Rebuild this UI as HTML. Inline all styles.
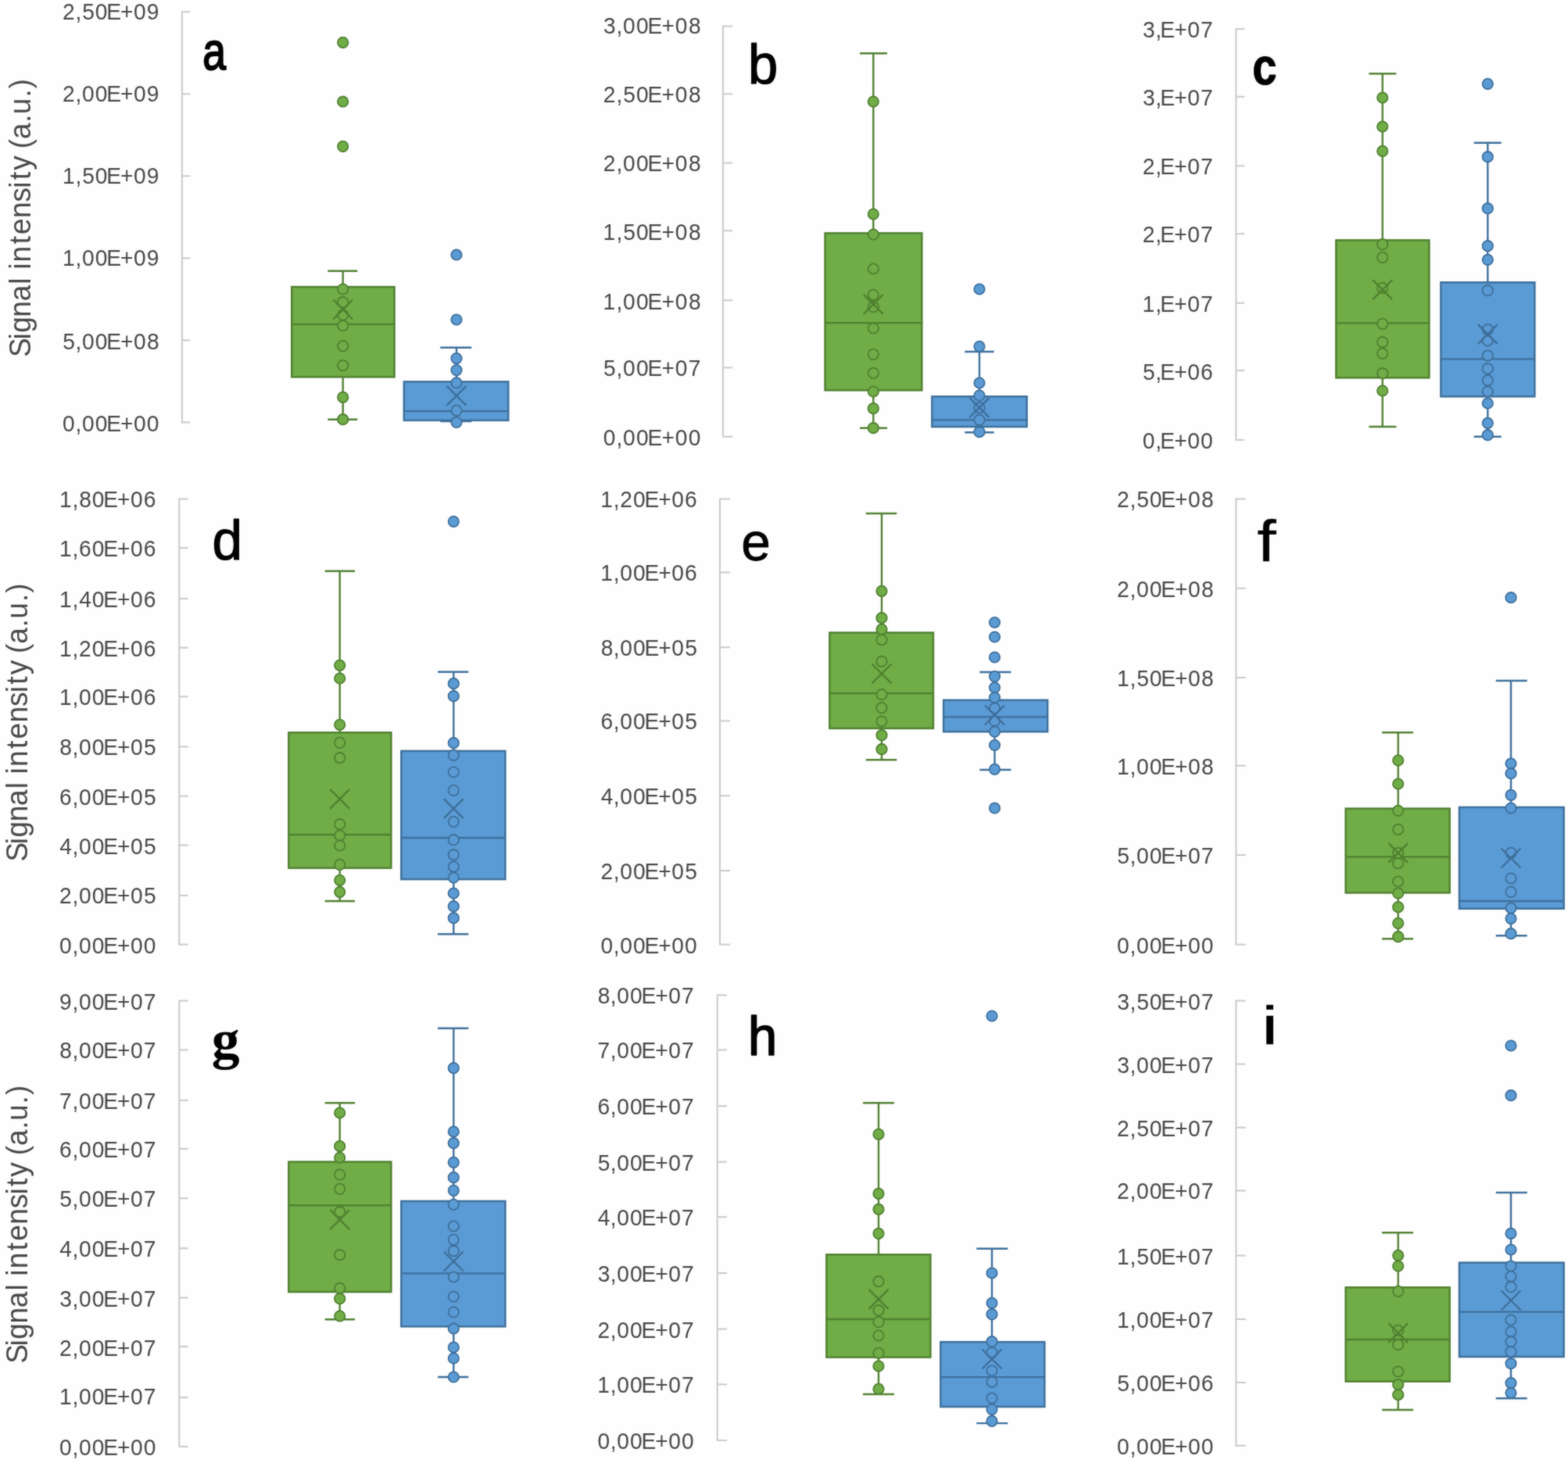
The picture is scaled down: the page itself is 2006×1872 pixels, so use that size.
<!DOCTYPE html>
<html lang="en"><head><meta charset="utf-8"><title>Signal intensity box plots</title>
<style>
html,body{margin:0;padding:0;background:#fff;}
body{width:2006px;height:1872px;overflow:hidden;}
svg{display:block;}
text{font-family:"Liberation Sans",sans-serif;}
.tl{font-size:30.3px;fill:#474747;}
.yl{font-size:39.3px;fill:#474747;}
.lt{fill:#000;}
.ax{stroke:#C9C9C9;stroke-width:2;fill:none;}
.gb{fill:#70AD47;stroke:#4F7F2F;stroke-width:2.5;}
.bb{fill:#5B9BD5;stroke:#3D6E9A;stroke-width:2.5;}
.gl{stroke:#4F7F2F;stroke-width:2.4;fill:none;}
.bl{stroke:#3D6E9A;stroke-width:2.4;fill:none;}
.gd{fill:#70AD47;stroke:#4F7F2F;stroke-width:1.8;}
.bd{fill:#5B9BD5;stroke:#3D6E9A;stroke-width:1.8;}
.gx{stroke:#4F7F2F;stroke-width:2.4;fill:none;}
.bx{stroke:#3D6E9A;stroke-width:2.4;fill:none;}
</style></head>
<body>

<svg width="2006" height="1872" viewBox="0 0 2006 1872">
<defs><filter id="soft" x="0" y="0" width="2006" height="1872" filterUnits="userSpaceOnUse" color-interpolation-filters="sRGB"><feGaussianBlur in="SourceGraphic" stdDeviation="0.9" result="b"/><feComposite in="SourceGraphic" in2="b" operator="arithmetic" k1="0" k2="0.5" k3="0.5" k4="0"/></filter></defs>
<g filter="url(#soft)">
<rect width="2006" height="1872" fill="#FEFEFE"/>
<g id="panel-a">
<line class="ax" x1="232.9" y1="14.1" x2="232.9" y2="541.4"/>
<line class="ax" x1="232.9" y1="15.1" x2="243.3" y2="15.1"/>
<line class="ax" x1="232.9" y1="120.25" x2="243.3" y2="120.25"/>
<line class="ax" x1="232.9" y1="225.2" x2="243.3" y2="225.2"/>
<line class="ax" x1="232.9" y1="330.4" x2="243.3" y2="330.4"/>
<line class="ax" x1="232.9" y1="435.4" x2="243.3" y2="435.4"/>
<line class="ax" x1="232.9" y1="540.4" x2="243.3" y2="540.4"/>
<text class="tl" transform="translate(79.7 24.9) scale(0.93 1)" x="0.46 18.14 27.53 45.26 60.76 79.89 98.17 116.14">2,50E+09</text>
<text class="tl" transform="translate(79.7 129.95) scale(0.93 1)" x="0.46 18.14 27.29 45.26 60.76 79.89 98.17 116.14">2,00E+09</text>
<text class="tl" transform="translate(79.7 235) scale(0.93 1)" x="0.23 18.14 27.53 45.26 60.76 79.89 98.17 116.14">1,50E+09</text>
<text class="tl" transform="translate(79.7 340.3) scale(0.93 1)" x="0.23 18.14 27.29 45.26 60.76 79.89 98.17 116.14">1,00E+09</text>
<text class="tl" transform="translate(79.7 447.4) scale(0.93 1)" x="0.7 18.14 27.29 45.26 60.76 79.89 98.17 116.38">5,00E+08</text>
<text class="tl" transform="translate(79.7 552.3) scale(0.93 1)" x="0.46 18.14 27.29 45.26 60.76 79.89 98.17 116.14">0,00E+00</text>
<text class="yl" transform="translate(38.6 454.4) rotate(-90) scale(0.94 1)" x="-2.74 21.08 30.43 51.86 73.46 96.49 105.86 116.63 126.56 151.12 164.33 186.66 208.46 227.4 238.65 251.79 271.64 280.98 293.98 316.61 327.96 350.99 362.97">Signal intensity (a.u.)</text>
<text class="lt" font-size="67.82" stroke="#000" stroke-width="1.8" stroke-linejoin="round" style="vector-effect:non-scaling-stroke;paint-order:stroke" transform="translate(259.35 89.42) scale(0.7911 1)">a</text>
<line class="gl" x1="438.7" y1="346.7" x2="438.7" y2="365.9"/>
<line class="gl" x1="438.7" y1="483.6" x2="438.7" y2="536.7"/>
<line class="gl" x1="419.3" y1="346.7" x2="457.3" y2="346.7"/>
<line class="gl" x1="419.3" y1="536.7" x2="457.3" y2="536.7"/>
<rect class="gb" x="373.25" y="367.15" width="131.3" height="115.2"/>
<line class="gl" style="stroke-width:2.3" x1="373.25" y1="414.8" x2="504.55" y2="414.8"/>
<circle class="gd" cx="438.7" cy="54.3" r="6.7"/>
<circle class="gd" cx="438.7" cy="130" r="6.7"/>
<circle class="gd" cx="438.7" cy="187.3" r="6.7"/>
<circle class="gd" cx="438.7" cy="370" r="6.7"/>
<circle class="gd" cx="438.7" cy="386.7" r="6.7"/>
<circle class="gd" cx="438.7" cy="403" r="6.7"/>
<circle class="gd" cx="438.7" cy="416.7" r="6.7"/>
<circle class="gd" cx="438.7" cy="442.7" r="6.7"/>
<circle class="gd" cx="438.7" cy="467.7" r="6.7"/>
<circle class="gd" cx="438.7" cy="508.3" r="6.7"/>
<circle class="gd" cx="438.7" cy="536.7" r="6.7"/>
<line class="gx" x1="426.2" y1="383.5" x2="451.2" y2="408.5"/>
<line class="gx" x1="426.2" y1="408.5" x2="451.2" y2="383.5"/>
<line class="bl" x1="584" y1="444.8" x2="584" y2="487.2"/>
<line class="bl" x1="584" y1="539.1" x2="584" y2="539"/>
<line class="bl" x1="563.3" y1="444.8" x2="603.3" y2="444.8"/>
<line class="bl" x1="563.3" y1="539" x2="603.3" y2="539"/>
<rect class="bb" x="516.85" y="488.45" width="133.4" height="49.4"/>
<line class="bl" style="stroke-width:2.3" x1="516.85" y1="526.2" x2="650.25" y2="526.2"/>
<circle class="bd" cx="584" cy="326" r="6.7"/>
<circle class="bd" cx="584" cy="409" r="6.7"/>
<circle class="bd" cx="584" cy="458.6" r="6.7"/>
<circle class="bd" cx="584" cy="473.6" r="6.7"/>
<circle class="bd" cx="584" cy="489.8" r="6.7"/>
<circle class="bd" cx="584" cy="525.3" r="6.7"/>
<circle class="bd" cx="584" cy="540.3" r="6.7"/>
<line class="bx" x1="571.5" y1="493.9" x2="596.5" y2="518.9"/>
<line class="bx" x1="571.5" y1="518.9" x2="596.5" y2="493.9"/>
</g>
<g id="panel-b">
<line class="ax" x1="925" y1="32.5" x2="925" y2="559.7"/>
<line class="ax" x1="925" y1="33.5" x2="937.3" y2="33.5"/>
<line class="ax" x1="925" y1="120.25" x2="937.3" y2="120.25"/>
<line class="ax" x1="925" y1="208.5" x2="937.3" y2="208.5"/>
<line class="ax" x1="925" y1="295.3" x2="937.3" y2="295.3"/>
<line class="ax" x1="925" y1="384.2" x2="937.3" y2="384.2"/>
<line class="ax" x1="925" y1="470.4" x2="937.3" y2="470.4"/>
<line class="ax" x1="925" y1="558.7" x2="937.3" y2="558.7"/>
<text class="tl" transform="translate(771.3 43.35) scale(0.93 1)" x="0.81 18.41 27.72 45.91 61.62 80.96 99.45 117.87">3,00E+08</text>
<text class="tl" transform="translate(771.3 131.45) scale(0.93 1)" x="0.57 18.41 27.96 45.91 61.62 80.96 99.45 117.87">2,50E+08</text>
<text class="tl" transform="translate(771.3 218.7) scale(0.93 1)" x="0.57 18.41 27.72 45.91 61.62 80.96 99.45 117.87">2,00E+08</text>
<text class="tl" transform="translate(771.3 307.1) scale(0.93 1)" x="0.33 18.41 27.96 45.91 61.62 80.96 99.45 117.87">1,50E+08</text>
<text class="tl" transform="translate(771.3 395.5) scale(0.93 1)" x="0.33 18.41 27.72 45.91 61.62 80.96 99.45 117.87">1,00E+08</text>
<text class="tl" transform="translate(771.3 481.3) scale(0.93 1)" x="0.81 18.41 27.72 45.91 61.62 80.96 99.45 117.64">5,00E+07</text>
<text class="tl" transform="translate(771.3 569.6) scale(0.93 1)" x="0.57 18.41 27.72 45.91 61.62 80.96 99.45 117.64">0,00E+00</text>
<text class="lt" font-size="71.35" stroke="#000" stroke-width="1.2" stroke-linejoin="round" style="vector-effect:non-scaling-stroke;paint-order:stroke" transform="translate(957.07 107.08) scale(0.9641 1)">b</text>
<line class="gl" x1="1117.3" y1="68.3" x2="1117.3" y2="297.1"/>
<line class="gl" x1="1117.3" y1="500.6" x2="1117.3" y2="547.7"/>
<line class="gl" x1="1100" y1="68.3" x2="1135" y2="68.3"/>
<line class="gl" x1="1100" y1="547.7" x2="1135" y2="547.7"/>
<rect class="gb" x="1055.55" y="298.35" width="123.8" height="201"/>
<line class="gl" style="stroke-width:2.3" x1="1055.55" y1="413.2" x2="1179.35" y2="413.2"/>
<circle class="gd" cx="1117.3" cy="130" r="6.7"/>
<circle class="gd" cx="1117.3" cy="274" r="6.7"/>
<circle class="gd" cx="1117.3" cy="300" r="6.7"/>
<circle class="gd" cx="1117.3" cy="344" r="6.7"/>
<circle class="gd" cx="1117.3" cy="377.3" r="6.7"/>
<circle class="gd" cx="1117.3" cy="392.7" r="6.7"/>
<circle class="gd" cx="1117.3" cy="420" r="6.7"/>
<circle class="gd" cx="1117.3" cy="453.3" r="6.7"/>
<circle class="gd" cx="1117.3" cy="477.3" r="6.7"/>
<circle class="gd" cx="1117.3" cy="501" r="6.7"/>
<circle class="gd" cx="1117.3" cy="522.7" r="6.7"/>
<circle class="gd" cx="1117.3" cy="547.7" r="6.7"/>
<line class="gx" x1="1104.8" y1="376.8" x2="1129.8" y2="401.8"/>
<line class="gx" x1="1104.8" y1="401.8" x2="1129.8" y2="376.8"/>
<line class="bl" x1="1253" y1="450" x2="1253" y2="506.1"/>
<line class="bl" x1="1253" y1="547.3" x2="1253" y2="553.3"/>
<line class="bl" x1="1234.3" y1="450" x2="1271.7" y2="450"/>
<line class="bl" x1="1234.3" y1="553.3" x2="1271.7" y2="553.3"/>
<rect class="bb" x="1192.35" y="507.35" width="121.3" height="38.7"/>
<line class="bl" style="stroke-width:2.3" x1="1192.35" y1="537.3" x2="1313.65" y2="537.3"/>
<circle class="bd" cx="1253" cy="370" r="6.7"/>
<circle class="bd" cx="1253" cy="443.3" r="6.7"/>
<circle class="bd" cx="1253" cy="490" r="6.7"/>
<circle class="bd" cx="1253" cy="506" r="6.7"/>
<circle class="bd" cx="1253" cy="521.7" r="6.7"/>
<circle class="bd" cx="1253" cy="537.3" r="6.7"/>
<circle class="bd" cx="1253" cy="552.7" r="6.7"/>
<line class="bx" x1="1240.5" y1="509.2" x2="1265.5" y2="534.2"/>
<line class="bx" x1="1240.5" y1="534.2" x2="1265.5" y2="509.2"/>
</g>
<g id="panel-c">
<line class="ax" x1="1581.3" y1="36.1" x2="1581.3" y2="563.9"/>
<line class="ax" x1="1581.3" y1="37.1" x2="1592.3" y2="37.1"/>
<line class="ax" x1="1581.3" y1="123.75" x2="1592.3" y2="123.75"/>
<line class="ax" x1="1581.3" y1="212.25" x2="1592.3" y2="212.25"/>
<line class="ax" x1="1581.3" y1="299.2" x2="1592.3" y2="299.2"/>
<line class="ax" x1="1581.3" y1="387.75" x2="1592.3" y2="387.75"/>
<line class="ax" x1="1581.3" y1="474.1" x2="1592.3" y2="474.1"/>
<line class="ax" x1="1581.3" y1="562.9" x2="1592.3" y2="562.9"/>
<text class="tl" transform="translate(1461.3 48) scale(0.93 1)" x="0.7 18.14 24.82 43.95 62.24 80.2">3,E+07</text>
<text class="tl" transform="translate(1461.3 134.65) scale(0.93 1)" x="0.7 18.14 24.82 43.95 62.24 80.2">3,E+07</text>
<text class="tl" transform="translate(1461.3 223.15) scale(0.93 1)" x="0.46 18.14 24.82 43.95 62.24 80.2">2,E+07</text>
<text class="tl" transform="translate(1461.3 310.1) scale(0.93 1)" x="0.46 18.14 24.82 43.95 62.24 80.2">2,E+07</text>
<text class="tl" transform="translate(1461.3 398.65) scale(0.93 1)" x="0.23 18.14 24.82 43.95 62.24 80.2">1,E+07</text>
<text class="tl" transform="translate(1461.3 486.1) scale(0.93 1)" x="0.7 18.14 24.82 43.95 62.24 80.2">5,E+06</text>
<text class="tl" transform="translate(1461.3 574.4) scale(0.93 1)" x="0.46 18.14 24.82 43.95 62.24 80.2">0,E+00</text>
<text class="lt" font-size="67.55" font-weight="bold" stroke="#000" stroke-width="1" stroke-linejoin="round" style="vector-effect:non-scaling-stroke;paint-order:stroke" transform="translate(1602.29 107.57) scale(0.8300 1)">c</text>
<line class="gl" x1="1768.7" y1="94.3" x2="1768.7" y2="306.1"/>
<line class="gl" x1="1768.7" y1="484.6" x2="1768.7" y2="546"/>
<line class="gl" x1="1751.3" y1="94.3" x2="1786.3" y2="94.3"/>
<line class="gl" x1="1751.3" y1="546" x2="1786.3" y2="546"/>
<rect class="gb" x="1709.35" y="307.35" width="119" height="176"/>
<line class="gl" style="stroke-width:2.3" x1="1709.35" y1="413.3" x2="1828.35" y2="413.3"/>
<circle class="gd" cx="1768.7" cy="125" r="6.7"/>
<circle class="gd" cx="1768.7" cy="162" r="6.7"/>
<circle class="gd" cx="1768.7" cy="193.3" r="6.7"/>
<circle class="gd" cx="1768.7" cy="312.7" r="6.7"/>
<circle class="gd" cx="1768.7" cy="329.3" r="6.7"/>
<circle class="gd" cx="1768.7" cy="368.3" r="6.7"/>
<circle class="gd" cx="1768.7" cy="414.3" r="6.7"/>
<circle class="gd" cx="1768.7" cy="437.7" r="6.7"/>
<circle class="gd" cx="1768.7" cy="452.3" r="6.7"/>
<circle class="gd" cx="1768.7" cy="477.7" r="6.7"/>
<circle class="gd" cx="1768.7" cy="500" r="6.7"/>
<line class="gx" x1="1756.2" y1="358.2" x2="1781.2" y2="383.2"/>
<line class="gx" x1="1756.2" y1="383.2" x2="1781.2" y2="358.2"/>
<line class="bl" x1="1903.3" y1="182.7" x2="1903.3" y2="360.1"/>
<line class="bl" x1="1903.3" y1="508.6" x2="1903.3" y2="558.7"/>
<line class="bl" x1="1885.7" y1="182.7" x2="1920.7" y2="182.7"/>
<line class="bl" x1="1885.7" y1="558.7" x2="1920.7" y2="558.7"/>
<rect class="bb" x="1843.35" y="361.35" width="120" height="146"/>
<line class="bl" style="stroke-width:2.3" x1="1843.35" y1="459.3" x2="1963.35" y2="459.3"/>
<circle class="bd" cx="1903.3" cy="107.3" r="6.7"/>
<circle class="bd" cx="1903.3" cy="200.7" r="6.7"/>
<circle class="bd" cx="1903.3" cy="266.7" r="6.7"/>
<circle class="bd" cx="1903.3" cy="314.7" r="6.7"/>
<circle class="bd" cx="1903.3" cy="332.3" r="6.7"/>
<circle class="bd" cx="1903.3" cy="371.7" r="6.7"/>
<circle class="bd" cx="1903.3" cy="421.7" r="6.7"/>
<circle class="bd" cx="1903.3" cy="436" r="6.7"/>
<circle class="bd" cx="1903.3" cy="455" r="6.7"/>
<circle class="bd" cx="1903.3" cy="471.7" r="6.7"/>
<circle class="bd" cx="1903.3" cy="486.7" r="6.7"/>
<circle class="bd" cx="1903.3" cy="501" r="6.7"/>
<circle class="bd" cx="1903.3" cy="516" r="6.7"/>
<circle class="bd" cx="1903.3" cy="541.3" r="6.7"/>
<circle class="bd" cx="1903.3" cy="556.7" r="6.7"/>
<line class="bx" x1="1890.8" y1="415.2" x2="1915.8" y2="440.2"/>
<line class="bx" x1="1890.8" y1="440.2" x2="1915.8" y2="415.2"/>
</g>
<g id="panel-d">
<line class="ax" x1="229.3" y1="637.5" x2="229.3" y2="1209.5"/>
<line class="ax" x1="229.3" y1="638.5" x2="240.7" y2="638.5"/>
<line class="ax" x1="229.3" y1="701" x2="240.7" y2="701"/>
<line class="ax" x1="229.3" y1="766" x2="240.7" y2="766"/>
<line class="ax" x1="229.3" y1="828.75" x2="240.7" y2="828.75"/>
<line class="ax" x1="229.3" y1="891.4" x2="240.7" y2="891.4"/>
<line class="ax" x1="229.3" y1="955.5" x2="240.7" y2="955.5"/>
<line class="ax" x1="229.3" y1="1018.75" x2="240.7" y2="1018.75"/>
<line class="ax" x1="229.3" y1="1081.5" x2="240.7" y2="1081.5"/>
<line class="ax" x1="229.3" y1="1145.9" x2="240.7" y2="1145.9"/>
<line class="ax" x1="229.3" y1="1208.5" x2="240.7" y2="1208.5"/>
<text class="tl" transform="translate(75.7 649.4) scale(0.93 1)" x="0.23 18.14 27.53 45.26 60.76 79.89 98.17 116.14">1,80E+06</text>
<text class="tl" transform="translate(75.7 711.9) scale(0.93 1)" x="0.23 18.14 27.29 45.26 60.76 79.89 98.17 116.14">1,60E+06</text>
<text class="tl" transform="translate(75.7 776.9) scale(0.93 1)" x="0.23 18.14 27.53 45.26 60.76 79.89 98.17 116.14">1,40E+06</text>
<text class="tl" transform="translate(75.7 839.65) scale(0.93 1)" x="0.23 18.14 27.29 45.26 60.76 79.89 98.17 116.14">1,20E+06</text>
<text class="tl" transform="translate(75.7 902.3) scale(0.93 1)" x="0.23 18.14 27.29 45.26 60.76 79.89 98.17 116.14">1,00E+06</text>
<text class="tl" transform="translate(75.7 966.4) scale(0.93 1)" x="0.7 18.14 27.29 45.26 60.76 79.89 98.17 116.38">8,00E+05</text>
<text class="tl" transform="translate(75.7 1030.25) scale(0.93 1)" x="0.46 18.14 27.29 45.26 60.76 79.89 98.17 116.38">6,00E+05</text>
<text class="tl" transform="translate(75.7 1093.35) scale(0.93 1)" x="0.7 18.14 27.29 45.26 60.76 79.89 98.17 116.38">4,00E+05</text>
<text class="tl" transform="translate(75.7 1155.85) scale(0.93 1)" x="0.46 18.14 27.29 45.26 60.76 79.89 98.17 116.38">2,00E+05</text>
<text class="tl" transform="translate(75.7 1219.85) scale(0.93 1)" x="0.46 18.14 27.29 45.26 60.76 79.89 98.17 116.14">0,00E+00</text>
<text class="yl" transform="translate(34.6 1100) rotate(-90) scale(0.94 1)" x="-2.74 21.08 30.43 51.86 73.46 96.49 105.86 116.63 126.56 151.12 164.33 186.66 208.46 227.4 238.65 251.79 271.64 280.98 293.98 316.61 327.96 350.99 362.97">Signal intensity (a.u.)</text>
<text class="lt" font-size="71.35" stroke="#000" stroke-width="1.2" stroke-linejoin="round" style="vector-effect:non-scaling-stroke;paint-order:stroke" transform="translate(271.58 716.08) scale(0.9718 1)">d</text>
<line class="gl" x1="434.7" y1="730.7" x2="434.7" y2="936.1"/>
<line class="gl" x1="434.7" y1="1111.9" x2="434.7" y2="1153"/>
<line class="gl" x1="415.7" y1="730.7" x2="454" y2="730.7"/>
<line class="gl" x1="415.7" y1="1153" x2="454" y2="1153"/>
<rect class="gb" x="369.35" y="937.35" width="131" height="173.3"/>
<line class="gl" style="stroke-width:2.3" x1="369.35" y1="1068" x2="500.35" y2="1068"/>
<circle class="gd" cx="434.7" cy="851.3" r="6.7"/>
<circle class="gd" cx="434.7" cy="868" r="6.7"/>
<circle class="gd" cx="434.7" cy="927.3" r="6.7"/>
<circle class="gd" cx="434.7" cy="950.3" r="6.7"/>
<circle class="gd" cx="434.7" cy="969.7" r="6.7"/>
<circle class="gd" cx="434.7" cy="1054.7" r="6.7"/>
<circle class="gd" cx="434.7" cy="1069" r="6.7"/>
<circle class="gd" cx="434.7" cy="1082" r="6.7"/>
<circle class="gd" cx="434.7" cy="1106.3" r="6.7"/>
<circle class="gd" cx="434.7" cy="1126.3" r="6.7"/>
<circle class="gd" cx="434.7" cy="1141.3" r="6.7"/>
<line class="gx" x1="422.2" y1="1009.8" x2="447.2" y2="1034.8"/>
<line class="gx" x1="422.2" y1="1034.8" x2="447.2" y2="1009.8"/>
<line class="bl" x1="580.3" y1="859.7" x2="580.3" y2="959.7"/>
<line class="bl" x1="580.3" y1="1126.3" x2="580.3" y2="1195.3"/>
<line class="bl" x1="560" y1="859.7" x2="599.3" y2="859.7"/>
<line class="bl" x1="560" y1="1195.3" x2="599.3" y2="1195.3"/>
<rect class="bb" x="513.35" y="960.95" width="133" height="164.1"/>
<line class="bl" style="stroke-width:2.3" x1="513.35" y1="1072" x2="646.35" y2="1072"/>
<circle class="bd" cx="580.3" cy="667.3" r="6.7"/>
<circle class="bd" cx="580.3" cy="874.7" r="6.7"/>
<circle class="bd" cx="580.3" cy="890.7" r="6.7"/>
<circle class="bd" cx="580.3" cy="950.7" r="6.7"/>
<circle class="bd" cx="580.3" cy="966.3" r="6.7"/>
<circle class="bd" cx="580.3" cy="988" r="6.7"/>
<circle class="bd" cx="580.3" cy="1011.3" r="6.7"/>
<circle class="bd" cx="580.3" cy="1051.3" r="6.7"/>
<circle class="bd" cx="580.3" cy="1074.7" r="6.7"/>
<circle class="bd" cx="580.3" cy="1093.7" r="6.7"/>
<circle class="bd" cx="580.3" cy="1109" r="6.7"/>
<circle class="bd" cx="580.3" cy="1123" r="6.7"/>
<circle class="bd" cx="580.3" cy="1143" r="6.7"/>
<circle class="bd" cx="580.3" cy="1159.7" r="6.7"/>
<circle class="bd" cx="580.3" cy="1174.7" r="6.7"/>
<line class="bx" x1="567.8" y1="1022.2" x2="592.8" y2="1047.2"/>
<line class="bx" x1="567.8" y1="1047.2" x2="592.8" y2="1022.2"/>
</g>
<g id="panel-e">
<line class="ax" x1="921" y1="637.5" x2="921" y2="1209.6"/>
<line class="ax" x1="921" y1="638.5" x2="934" y2="638.5"/>
<line class="ax" x1="921" y1="732.5" x2="934" y2="732.5"/>
<line class="ax" x1="921" y1="828.3" x2="934" y2="828.3"/>
<line class="ax" x1="921" y1="922.4" x2="934" y2="922.4"/>
<line class="ax" x1="921" y1="1018.2" x2="934" y2="1018.2"/>
<line class="ax" x1="921" y1="1114" x2="934" y2="1114"/>
<line class="ax" x1="921" y1="1208.6" x2="934" y2="1208.6"/>
<text class="tl" transform="translate(768 649.4) scale(0.93 1)" x="0.23 18.14 27.29 45.26 60.76 79.89 98.17 116.14">1,20E+06</text>
<text class="tl" transform="translate(768 743.4) scale(0.93 1)" x="0.23 18.14 27.29 45.26 60.76 79.89 98.17 116.14">1,00E+06</text>
<text class="tl" transform="translate(768 839.2) scale(0.93 1)" x="0.7 18.14 27.29 45.26 60.76 79.89 98.17 116.38">8,00E+05</text>
<text class="tl" transform="translate(768 933.3) scale(0.93 1)" x="0.46 18.14 27.29 45.26 60.76 79.89 98.17 116.38">6,00E+05</text>
<text class="tl" transform="translate(768 1029.1) scale(0.93 1)" x="0.7 18.14 27.29 45.26 60.76 79.89 98.17 116.38">4,00E+05</text>
<text class="tl" transform="translate(768 1124.9) scale(0.93 1)" x="0.46 18.14 27.29 45.26 60.76 79.89 98.17 116.38">2,00E+05</text>
<text class="tl" transform="translate(768 1219.5) scale(0.93 1)" x="0.46 18.14 27.29 45.26 60.76 79.89 98.17 116.14">0,00E+00</text>
<text class="lt" font-size="68.27" stroke="#000" stroke-width="0.8" stroke-linejoin="round" style="vector-effect:non-scaling-stroke;paint-order:stroke" transform="translate(948.3 716.67) scale(0.9898 1)">e</text>
<line class="gl" x1="1128" y1="657" x2="1128" y2="808.3"/>
<line class="gl" x1="1128" y1="933.2" x2="1128" y2="972.3"/>
<line class="gl" x1="1107.7" y1="657" x2="1147.3" y2="657"/>
<line class="gl" x1="1107.7" y1="972.3" x2="1147.3" y2="972.3"/>
<rect class="gb" x="1061.35" y="809.55" width="132.6" height="122.4"/>
<line class="gl" style="stroke-width:2.3" x1="1061.35" y1="887.2" x2="1193.95" y2="887.2"/>
<circle class="gd" cx="1128" cy="756.3" r="6.7"/>
<circle class="gd" cx="1128" cy="790.7" r="6.7"/>
<circle class="gd" cx="1128" cy="805.3" r="6.7"/>
<circle class="gd" cx="1128" cy="818.7" r="6.7"/>
<circle class="gd" cx="1128" cy="846.3" r="6.7"/>
<circle class="gd" cx="1128" cy="888.7" r="6.7"/>
<circle class="gd" cx="1128" cy="905.7" r="6.7"/>
<circle class="gd" cx="1128" cy="923" r="6.7"/>
<circle class="gd" cx="1128" cy="940.7" r="6.7"/>
<circle class="gd" cx="1128" cy="958.7" r="6.7"/>
<line class="gx" x1="1115.5" y1="849.5" x2="1140.5" y2="874.5"/>
<line class="gx" x1="1115.5" y1="874.5" x2="1140.5" y2="849.5"/>
<line class="bl" x1="1272.5" y1="860" x2="1272.5" y2="894.6"/>
<line class="bl" x1="1272.5" y1="937.5" x2="1272.5" y2="985"/>
<line class="bl" x1="1253.3" y1="860" x2="1293.5" y2="860"/>
<line class="bl" x1="1253.3" y1="985" x2="1293.5" y2="985"/>
<rect class="bb" x="1207.15" y="895.85" width="133" height="40.4"/>
<line class="bl" style="stroke-width:2.3" x1="1207.15" y1="917.3" x2="1340.15" y2="917.3"/>
<circle class="bd" cx="1272.5" cy="796.5" r="6.7"/>
<circle class="bd" cx="1272.5" cy="815" r="6.7"/>
<circle class="bd" cx="1272.5" cy="841" r="6.7"/>
<circle class="bd" cx="1272.5" cy="865.6" r="6.7"/>
<circle class="bd" cx="1272.5" cy="879.75" r="6.7"/>
<circle class="bd" cx="1272.5" cy="892.5" r="6.7"/>
<circle class="bd" cx="1272.5" cy="906.25" r="6.7"/>
<circle class="bd" cx="1272.5" cy="922.5" r="6.7"/>
<circle class="bd" cx="1272.5" cy="936.25" r="6.7"/>
<circle class="bd" cx="1272.5" cy="953.5" r="6.7"/>
<circle class="bd" cx="1272.5" cy="984.4" r="6.7"/>
<circle class="bd" cx="1272.5" cy="1034" r="6.7"/>
<line class="bx" x1="1260" y1="902.5" x2="1285" y2="927.5"/>
<line class="bx" x1="1260" y1="927.5" x2="1285" y2="902.5"/>
</g>
<g id="panel-f">
<line class="ax" x1="1581.3" y1="637.5" x2="1581.3" y2="1209.6"/>
<line class="ax" x1="1581.3" y1="638.5" x2="1593.7" y2="638.5"/>
<line class="ax" x1="1581.3" y1="752.75" x2="1593.7" y2="752.75"/>
<line class="ax" x1="1581.3" y1="867" x2="1593.7" y2="867"/>
<line class="ax" x1="1581.3" y1="979.8" x2="1593.7" y2="979.8"/>
<line class="ax" x1="1581.3" y1="1094" x2="1593.7" y2="1094"/>
<line class="ax" x1="1581.3" y1="1208.6" x2="1593.7" y2="1208.6"/>
<text class="tl" transform="translate(1428.7 649.4) scale(0.93 1)" x="0.46 18.14 27.53 45.26 60.76 79.89 98.17 116.38">2,50E+08</text>
<text class="tl" transform="translate(1428.7 763.65) scale(0.93 1)" x="0.46 18.14 27.29 45.26 60.76 79.89 98.17 116.38">2,00E+08</text>
<text class="tl" transform="translate(1428.7 877.9) scale(0.93 1)" x="0.23 18.14 27.53 45.26 60.76 79.89 98.17 116.38">1,50E+08</text>
<text class="tl" transform="translate(1428.7 990.7) scale(0.93 1)" x="0.23 18.14 27.29 45.26 60.76 79.89 98.17 116.38">1,00E+08</text>
<text class="tl" transform="translate(1428.7 1104.9) scale(0.93 1)" x="0.7 18.14 27.29 45.26 60.76 79.89 98.17 116.14">5,00E+07</text>
<text class="tl" transform="translate(1428.7 1219.5) scale(0.93 1)" x="0.46 18.14 27.29 45.26 60.76 79.89 98.17 116.14">0,00E+00</text>
<text class="lt" font-size="73.22" stroke="#000" stroke-width="0.3" stroke-linejoin="round" style="vector-effect:non-scaling-stroke;paint-order:stroke" transform="translate(1608.27 718.23) scale(1.2039 1)">f</text>
<line class="gl" x1="1788.7" y1="937.3" x2="1788.7" y2="1033.4"/>
<line class="gl" x1="1788.7" y1="1143.6" x2="1788.7" y2="1201.3"/>
<line class="gl" x1="1768" y1="937.3" x2="1808" y2="937.3"/>
<line class="gl" x1="1768" y1="1201.3" x2="1808" y2="1201.3"/>
<rect class="gb" x="1721.65" y="1034.65" width="133" height="107.7"/>
<line class="gl" style="stroke-width:2.3" x1="1721.65" y1="1096.3" x2="1854.65" y2="1096.3"/>
<circle class="gd" cx="1788.7" cy="973" r="6.7"/>
<circle class="gd" cx="1788.7" cy="1003" r="6.7"/>
<circle class="gd" cx="1788.7" cy="1037.3" r="6.7"/>
<circle class="gd" cx="1788.7" cy="1061.3" r="6.7"/>
<circle class="gd" cx="1788.7" cy="1091.3" r="6.7"/>
<circle class="gd" cx="1788.7" cy="1104.7" r="6.7"/>
<circle class="gd" cx="1788.7" cy="1128" r="6.7"/>
<circle class="gd" cx="1788.7" cy="1143" r="6.7"/>
<circle class="gd" cx="1788.7" cy="1160.7" r="6.7"/>
<circle class="gd" cx="1788.7" cy="1181.3" r="6.7"/>
<circle class="gd" cx="1788.7" cy="1198.7" r="6.7"/>
<line class="gx" x1="1776.2" y1="1078.8" x2="1801.2" y2="1103.8"/>
<line class="gx" x1="1776.2" y1="1103.8" x2="1801.2" y2="1078.8"/>
<line class="bl" x1="1933" y1="871" x2="1933" y2="1031.7"/>
<line class="bl" x1="1933" y1="1163.9" x2="1933" y2="1197.3"/>
<line class="bl" x1="1913.7" y1="871" x2="1953.7" y2="871"/>
<line class="bl" x1="1913.7" y1="1197.3" x2="1953.7" y2="1197.3"/>
<rect class="bb" x="1866.95" y="1032.95" width="133.7" height="129.7"/>
<line class="bl" style="stroke-width:2.3" x1="1866.95" y1="1153" x2="2000.65" y2="1153"/>
<circle class="bd" cx="1933" cy="764.7" r="6.7"/>
<circle class="bd" cx="1933" cy="977" r="6.7"/>
<circle class="bd" cx="1933" cy="989.7" r="6.7"/>
<circle class="bd" cx="1933" cy="1017.3" r="6.7"/>
<circle class="bd" cx="1933" cy="1034" r="6.7"/>
<circle class="bd" cx="1933" cy="1091.3" r="6.7"/>
<circle class="bd" cx="1933" cy="1124" r="6.7"/>
<circle class="bd" cx="1933" cy="1141.3" r="6.7"/>
<circle class="bd" cx="1933" cy="1162" r="6.7"/>
<circle class="bd" cx="1933" cy="1175.3" r="6.7"/>
<circle class="bd" cx="1933" cy="1194.7" r="6.7"/>
<line class="bx" x1="1920.5" y1="1085.5" x2="1945.5" y2="1110.5"/>
<line class="bx" x1="1920.5" y1="1110.5" x2="1945.5" y2="1085.5"/>
</g>
<g id="panel-g">
<line class="ax" x1="229.3" y1="1279.6" x2="229.3" y2="1852"/>
<line class="ax" x1="229.3" y1="1280.6" x2="240.7" y2="1280.6"/>
<line class="ax" x1="229.3" y1="1343.4" x2="240.7" y2="1343.4"/>
<line class="ax" x1="229.3" y1="1407.9" x2="240.7" y2="1407.9"/>
<line class="ax" x1="229.3" y1="1470" x2="240.7" y2="1470"/>
<line class="ax" x1="229.3" y1="1533.2" x2="240.7" y2="1533.2"/>
<line class="ax" x1="229.3" y1="1597.3" x2="240.7" y2="1597.3"/>
<line class="ax" x1="229.3" y1="1660.6" x2="240.7" y2="1660.6"/>
<line class="ax" x1="229.3" y1="1723.1" x2="240.7" y2="1723.1"/>
<line class="ax" x1="229.3" y1="1788.1" x2="240.7" y2="1788.1"/>
<line class="ax" x1="229.3" y1="1851" x2="240.7" y2="1851"/>
<text class="tl" transform="translate(75.7 1291.5) scale(0.93 1)" x="0.46 18.14 27.29 45.26 60.76 79.89 98.17 116.14">9,00E+07</text>
<text class="tl" transform="translate(75.7 1354.3) scale(0.93 1)" x="0.7 18.14 27.29 45.26 60.76 79.89 98.17 116.14">8,00E+07</text>
<text class="tl" transform="translate(75.7 1418.8) scale(0.93 1)" x="0.46 18.14 27.29 45.26 60.76 79.89 98.17 116.14">7,00E+07</text>
<text class="tl" transform="translate(75.7 1480.9) scale(0.93 1)" x="0.46 18.14 27.29 45.26 60.76 79.89 98.17 116.14">6,00E+07</text>
<text class="tl" transform="translate(75.7 1544.1) scale(0.93 1)" x="0.7 18.14 27.29 45.26 60.76 79.89 98.17 116.14">5,00E+07</text>
<text class="tl" transform="translate(75.7 1608.2) scale(0.93 1)" x="0.7 18.14 27.29 45.26 60.76 79.89 98.17 116.14">4,00E+07</text>
<text class="tl" transform="translate(75.7 1672.1) scale(0.93 1)" x="0.7 18.14 27.29 45.26 60.76 79.89 98.17 116.14">3,00E+07</text>
<text class="tl" transform="translate(75.7 1734.85) scale(0.93 1)" x="0.46 18.14 27.29 45.26 60.76 79.89 98.17 116.14">2,00E+07</text>
<text class="tl" transform="translate(75.7 1797.35) scale(0.93 1)" x="0.23 18.14 27.29 45.26 60.76 79.89 98.17 116.14">1,00E+07</text>
<text class="tl" transform="translate(75.7 1862.1) scale(0.93 1)" x="0.46 18.14 27.29 45.26 60.76 79.89 98.17 116.14">0,00E+00</text>
<text class="yl" transform="translate(34.6 1742.3) rotate(-90) scale(0.94 1)" x="-2.74 21.08 30.43 51.86 73.46 96.49 105.86 116.63 126.56 151.12 164.33 186.66 208.46 227.4 238.65 251.79 271.64 280.98 293.98 316.61 327.96 350.99 362.97">Signal intensity (a.u.)</text>
<text class="lt" font-size="70.61" style="font-family:'Liberation Serif',serif" font-weight="bold" transform="translate(270.7 1353.87) scale(1.0169 1)">g</text>
<line class="gl" x1="434.7" y1="1411.3" x2="434.7" y2="1485.4"/>
<line class="gl" x1="434.7" y1="1654.3" x2="434.7" y2="1688.3"/>
<line class="gl" x1="415.7" y1="1411.3" x2="454" y2="1411.3"/>
<line class="gl" x1="415.7" y1="1688.3" x2="454" y2="1688.3"/>
<rect class="gb" x="369.35" y="1486.65" width="131" height="166.4"/>
<line class="gl" style="stroke-width:2.3" x1="369.35" y1="1542.3" x2="500.35" y2="1542.3"/>
<circle class="gd" cx="434.7" cy="1424" r="6.7"/>
<circle class="gd" cx="434.7" cy="1466.7" r="6.7"/>
<circle class="gd" cx="434.7" cy="1481.3" r="6.7"/>
<circle class="gd" cx="434.7" cy="1503" r="6.7"/>
<circle class="gd" cx="434.7" cy="1521.3" r="6.7"/>
<circle class="gd" cx="434.7" cy="1550.7" r="6.7"/>
<circle class="gd" cx="434.7" cy="1605.7" r="6.7"/>
<circle class="gd" cx="434.7" cy="1648.3" r="6.7"/>
<circle class="gd" cx="434.7" cy="1661.7" r="6.7"/>
<circle class="gd" cx="434.7" cy="1684" r="6.7"/>
<line class="gx" x1="422.2" y1="1548.2" x2="447.2" y2="1573.2"/>
<line class="gx" x1="422.2" y1="1573.2" x2="447.2" y2="1548.2"/>
<line class="bl" x1="580.3" y1="1315.7" x2="580.3" y2="1535.7"/>
<line class="bl" x1="580.3" y1="1698.6" x2="580.3" y2="1762"/>
<line class="bl" x1="560" y1="1315.7" x2="599.3" y2="1315.7"/>
<line class="bl" x1="560" y1="1762" x2="599.3" y2="1762"/>
<rect class="bb" x="513.35" y="1536.95" width="133" height="160.4"/>
<line class="bl" style="stroke-width:2.3" x1="513.35" y1="1629.3" x2="646.35" y2="1629.3"/>
<circle class="bd" cx="580.3" cy="1366.7" r="6.7"/>
<circle class="bd" cx="580.3" cy="1448" r="6.7"/>
<circle class="bd" cx="580.3" cy="1462.7" r="6.7"/>
<circle class="bd" cx="580.3" cy="1487.3" r="6.7"/>
<circle class="bd" cx="580.3" cy="1506.7" r="6.7"/>
<circle class="bd" cx="580.3" cy="1523.3" r="6.7"/>
<circle class="bd" cx="580.3" cy="1541.3" r="6.7"/>
<circle class="bd" cx="580.3" cy="1569" r="6.7"/>
<circle class="bd" cx="580.3" cy="1586.3" r="6.7"/>
<circle class="bd" cx="580.3" cy="1600.7" r="6.7"/>
<circle class="bd" cx="580.3" cy="1634" r="6.7"/>
<circle class="bd" cx="580.3" cy="1659" r="6.7"/>
<circle class="bd" cx="580.3" cy="1679" r="6.7"/>
<circle class="bd" cx="580.3" cy="1700" r="6.7"/>
<circle class="bd" cx="580.3" cy="1724" r="6.7"/>
<circle class="bd" cx="580.3" cy="1738" r="6.7"/>
<circle class="bd" cx="580.3" cy="1762" r="6.7"/>
<line class="bx" x1="567.8" y1="1601.5" x2="592.8" y2="1626.5"/>
<line class="bx" x1="567.8" y1="1626.5" x2="592.8" y2="1601.5"/>
</g>
<g id="panel-h">
<line class="ax" x1="917.7" y1="1272.4" x2="917.7" y2="1844"/>
<line class="ax" x1="917.7" y1="1273.4" x2="930" y2="1273.4"/>
<line class="ax" x1="917.7" y1="1343.4" x2="930" y2="1343.4"/>
<line class="ax" x1="917.7" y1="1415.25" x2="930" y2="1415.25"/>
<line class="ax" x1="917.7" y1="1486.7" x2="930" y2="1486.7"/>
<line class="ax" x1="917.7" y1="1557.2" x2="930" y2="1557.2"/>
<line class="ax" x1="917.7" y1="1629" x2="930" y2="1629"/>
<line class="ax" x1="917.7" y1="1700.6" x2="930" y2="1700.6"/>
<line class="ax" x1="917.7" y1="1771.4" x2="930" y2="1771.4"/>
<line class="ax" x1="917.7" y1="1843" x2="930" y2="1843"/>
<text class="tl" transform="translate(764 1284.3) scale(0.93 1)" x="0.7 18.14 27.29 45.26 60.76 79.89 98.17 116.14">8,00E+07</text>
<text class="tl" transform="translate(764 1354.3) scale(0.93 1)" x="0.46 18.14 27.29 45.26 60.76 79.89 98.17 116.14">7,00E+07</text>
<text class="tl" transform="translate(764 1426.15) scale(0.93 1)" x="0.46 18.14 27.29 45.26 60.76 79.89 98.17 116.14">6,00E+07</text>
<text class="tl" transform="translate(764 1497.6) scale(0.93 1)" x="0.7 18.14 27.29 45.26 60.76 79.89 98.17 116.14">5,00E+07</text>
<text class="tl" transform="translate(764 1568.1) scale(0.93 1)" x="0.7 18.14 27.29 45.26 60.76 79.89 98.17 116.14">4,00E+07</text>
<text class="tl" transform="translate(764 1639.9) scale(0.93 1)" x="0.7 18.14 27.29 45.26 60.76 79.89 98.17 116.14">3,00E+07</text>
<text class="tl" transform="translate(764 1711.5) scale(0.93 1)" x="0.46 18.14 27.29 45.26 60.76 79.89 98.17 116.14">2,00E+07</text>
<text class="tl" transform="translate(764 1782.3) scale(0.93 1)" x="0.23 18.14 27.29 45.26 60.76 79.89 98.17 116.14">1,00E+07</text>
<text class="tl" transform="translate(764 1853.9) scale(0.93 1)" x="0.46 18.14 27.29 45.26 60.76 79.89 98.17 116.14">0,00E+00</text>
<text class="lt" font-size="71.1" stroke="#000" stroke-width="1.6" stroke-linejoin="round" style="vector-effect:non-scaling-stroke;paint-order:stroke" transform="translate(957.05 1350.44) scale(0.9421 1)">h</text>
<line class="gl" x1="1124" y1="1411.3" x2="1124" y2="1604.1"/>
<line class="gl" x1="1124" y1="1737.9" x2="1124" y2="1784"/>
<line class="gl" x1="1104" y1="1411.3" x2="1144" y2="1411.3"/>
<line class="gl" x1="1104" y1="1784" x2="1144" y2="1784"/>
<rect class="gb" x="1057.35" y="1605.35" width="133" height="131.3"/>
<line class="gl" style="stroke-width:2.3" x1="1057.35" y1="1688" x2="1190.35" y2="1688"/>
<circle class="gd" cx="1124" cy="1451.3" r="6.7"/>
<circle class="gd" cx="1124" cy="1527.3" r="6.7"/>
<circle class="gd" cx="1124" cy="1547.3" r="6.7"/>
<circle class="gd" cx="1124" cy="1578.3" r="6.7"/>
<circle class="gd" cx="1124" cy="1639.7" r="6.7"/>
<circle class="gd" cx="1124" cy="1676.7" r="6.7"/>
<circle class="gd" cx="1124" cy="1691.7" r="6.7"/>
<circle class="gd" cx="1124" cy="1709" r="6.7"/>
<circle class="gd" cx="1124" cy="1731.3" r="6.7"/>
<circle class="gd" cx="1124" cy="1748" r="6.7"/>
<circle class="gd" cx="1124" cy="1777.3" r="6.7"/>
<line class="gx" x1="1111.5" y1="1649.8" x2="1136.5" y2="1674.8"/>
<line class="gx" x1="1111.5" y1="1674.8" x2="1136.5" y2="1649.8"/>
<line class="bl" x1="1269" y1="1597.8" x2="1269" y2="1715.9"/>
<line class="bl" x1="1269" y1="1801.3" x2="1269" y2="1821.1"/>
<line class="bl" x1="1249.3" y1="1597.8" x2="1289.3" y2="1597.8"/>
<line class="bl" x1="1249.3" y1="1821.1" x2="1289.3" y2="1821.1"/>
<rect class="bb" x="1203.35" y="1717.15" width="133" height="82.9"/>
<line class="bl" style="stroke-width:2.3" x1="1203.35" y1="1762.2" x2="1336.35" y2="1762.2"/>
<circle class="bd" cx="1269" cy="1300" r="6.7"/>
<circle class="bd" cx="1269" cy="1629" r="6.7"/>
<circle class="bd" cx="1269" cy="1667.3" r="6.7"/>
<circle class="bd" cx="1269" cy="1681.7" r="6.7"/>
<circle class="bd" cx="1269" cy="1716.7" r="6.7"/>
<circle class="bd" cx="1269" cy="1730.7" r="6.7"/>
<circle class="bd" cx="1269" cy="1754" r="6.7"/>
<circle class="bd" cx="1269" cy="1768.3" r="6.7"/>
<circle class="bd" cx="1269" cy="1789" r="6.7"/>
<circle class="bd" cx="1269" cy="1803.3" r="6.7"/>
<circle class="bd" cx="1269" cy="1818.3" r="6.7"/>
<line class="bx" x1="1256.5" y1="1726.5" x2="1281.5" y2="1751.5"/>
<line class="bx" x1="1256.5" y1="1751.5" x2="1281.5" y2="1726.5"/>
</g>
<g id="panel-i">
<line class="ax" x1="1581.3" y1="1279.6" x2="1581.3" y2="1850.8"/>
<line class="ax" x1="1581.3" y1="1280.6" x2="1593.7" y2="1280.6"/>
<line class="ax" x1="1581.3" y1="1361.6" x2="1593.7" y2="1361.6"/>
<line class="ax" x1="1581.3" y1="1442.75" x2="1593.7" y2="1442.75"/>
<line class="ax" x1="1581.3" y1="1523.5" x2="1593.7" y2="1523.5"/>
<line class="ax" x1="1581.3" y1="1606.6" x2="1593.7" y2="1606.6"/>
<line class="ax" x1="1581.3" y1="1688" x2="1593.7" y2="1688"/>
<line class="ax" x1="1581.3" y1="1769" x2="1593.7" y2="1769"/>
<line class="ax" x1="1581.3" y1="1849.8" x2="1593.7" y2="1849.8"/>
<text class="tl" transform="translate(1428.7 1291.5) scale(0.93 1)" x="0.7 18.14 27.53 45.26 60.76 79.89 98.17 116.14">3,50E+07</text>
<text class="tl" transform="translate(1428.7 1372.5) scale(0.93 1)" x="0.7 18.14 27.29 45.26 60.76 79.89 98.17 116.14">3,00E+07</text>
<text class="tl" transform="translate(1428.7 1453.65) scale(0.93 1)" x="0.46 18.14 27.53 45.26 60.76 79.89 98.17 116.14">2,50E+07</text>
<text class="tl" transform="translate(1428.7 1534.4) scale(0.93 1)" x="0.46 18.14 27.29 45.26 60.76 79.89 98.17 116.14">2,00E+07</text>
<text class="tl" transform="translate(1428.7 1617.5) scale(0.93 1)" x="0.23 18.14 27.53 45.26 60.76 79.89 98.17 116.14">1,50E+07</text>
<text class="tl" transform="translate(1428.7 1698.9) scale(0.93 1)" x="0.23 18.14 27.29 45.26 60.76 79.89 98.17 116.14">1,00E+07</text>
<text class="tl" transform="translate(1428.7 1779.9) scale(0.93 1)" x="0.7 18.14 27.29 45.26 60.76 79.89 98.17 116.14">5,00E+06</text>
<text class="tl" transform="translate(1428.7 1860.7) scale(0.93 1)" x="0.46 18.14 27.29 45.26 60.76 79.89 98.17 116.14">0,00E+00</text>
<text class="lt" font-size="69.18" stroke="#000" stroke-width="0.8" stroke-linejoin="round" style="vector-effect:non-scaling-stroke;paint-order:stroke" transform="translate(1614.48 1336.15) scale(1.3171 1)">i</text>
<line class="gl" x1="1788.7" y1="1577.3" x2="1788.7" y2="1646.1"/>
<line class="gl" x1="1788.7" y1="1768.9" x2="1788.7" y2="1804"/>
<line class="gl" x1="1768" y1="1577.3" x2="1808" y2="1577.3"/>
<line class="gl" x1="1768" y1="1804" x2="1808" y2="1804"/>
<rect class="gb" x="1721.65" y="1647.35" width="133" height="120.3"/>
<line class="gl" style="stroke-width:2.3" x1="1721.65" y1="1714" x2="1854.65" y2="1714"/>
<circle class="gd" cx="1788.7" cy="1606.3" r="6.7"/>
<circle class="gd" cx="1788.7" cy="1620" r="6.7"/>
<circle class="gd" cx="1788.7" cy="1652.3" r="6.7"/>
<circle class="gd" cx="1788.7" cy="1702.3" r="6.7"/>
<circle class="gd" cx="1788.7" cy="1720.7" r="6.7"/>
<circle class="gd" cx="1788.7" cy="1755" r="6.7"/>
<circle class="gd" cx="1788.7" cy="1771.7" r="6.7"/>
<circle class="gd" cx="1788.7" cy="1784.7" r="6.7"/>
<line class="gx" x1="1776.2" y1="1693.2" x2="1801.2" y2="1718.2"/>
<line class="gx" x1="1776.2" y1="1718.2" x2="1801.2" y2="1693.2"/>
<line class="bl" x1="1933" y1="1526" x2="1933" y2="1614.4"/>
<line class="bl" x1="1933" y1="1737.3" x2="1933" y2="1789.3"/>
<line class="bl" x1="1913.7" y1="1526" x2="1953.7" y2="1526"/>
<line class="bl" x1="1913.7" y1="1789.3" x2="1953.7" y2="1789.3"/>
<rect class="bb" x="1866.95" y="1615.65" width="133.7" height="120.4"/>
<line class="bl" style="stroke-width:2.3" x1="1866.95" y1="1678.7" x2="2000.65" y2="1678.7"/>
<circle class="bd" cx="1933" cy="1338" r="6.7"/>
<circle class="bd" cx="1933" cy="1401.7" r="6.7"/>
<circle class="bd" cx="1933" cy="1578.3" r="6.7"/>
<circle class="bd" cx="1933" cy="1599" r="6.7"/>
<circle class="bd" cx="1933" cy="1620" r="6.7"/>
<circle class="bd" cx="1933" cy="1633.3" r="6.7"/>
<circle class="bd" cx="1933" cy="1646.7" r="6.7"/>
<circle class="bd" cx="1933" cy="1689" r="6.7"/>
<circle class="bd" cx="1933" cy="1704" r="6.7"/>
<circle class="bd" cx="1933" cy="1716.7" r="6.7"/>
<circle class="bd" cx="1933" cy="1729.7" r="6.7"/>
<circle class="bd" cx="1933" cy="1744.7" r="6.7"/>
<circle class="bd" cx="1933" cy="1769.7" r="6.7"/>
<circle class="bd" cx="1933" cy="1782.3" r="6.7"/>
<line class="bx" x1="1920.5" y1="1651.5" x2="1945.5" y2="1676.5"/>
<line class="bx" x1="1920.5" y1="1676.5" x2="1945.5" y2="1651.5"/>
</g>
</g>
</svg>
</body></html>
